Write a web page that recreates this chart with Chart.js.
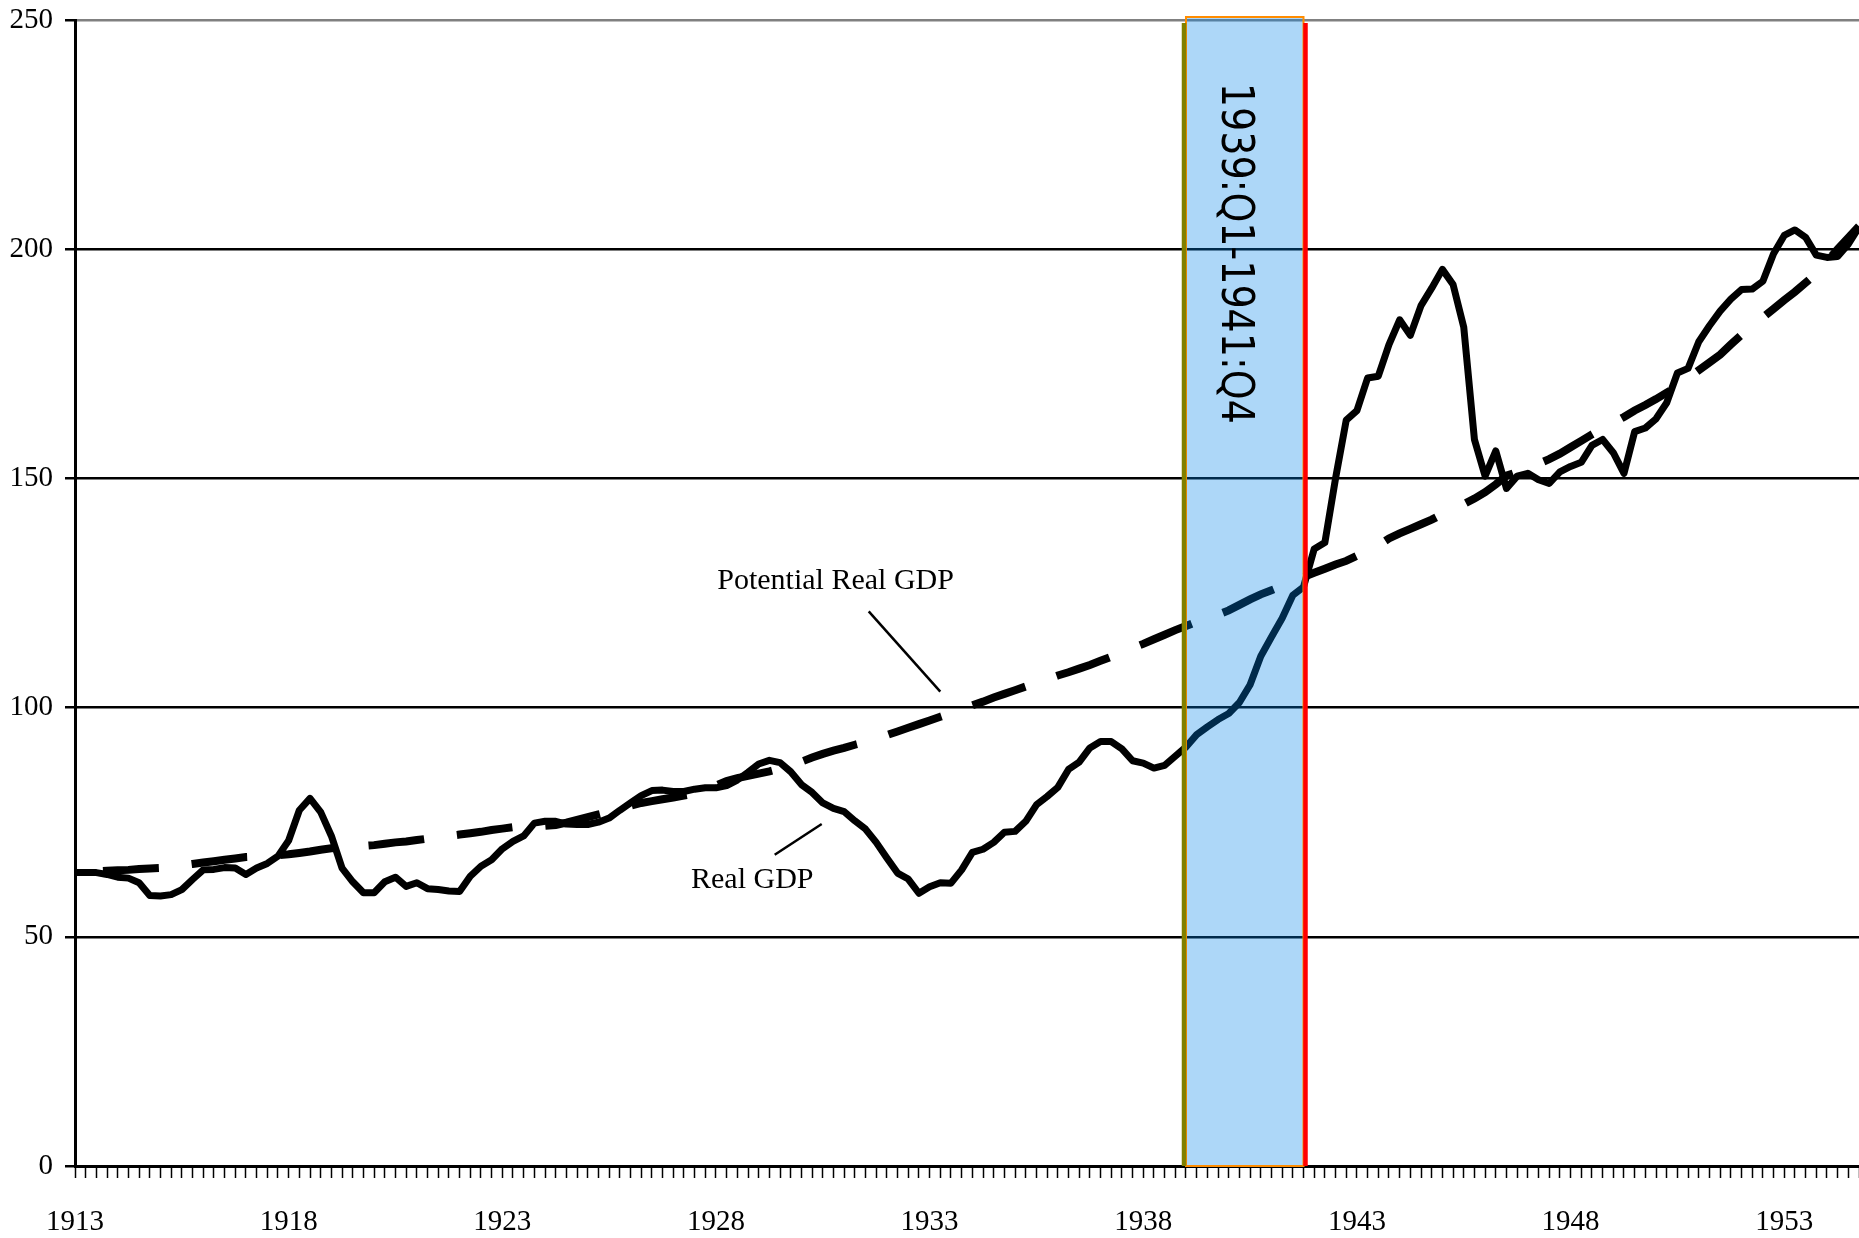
<!DOCTYPE html>
<html>
<head>
<meta charset="utf-8">
<title>Real GDP and Potential Real GDP</title>
<script src="https://cdn.jsdelivr.net/npm/chart.js@4.4.0/dist/chart.umd.min.js"></script>
<style>
  html, body { margin: 0; padding: 0; background: #fff; }
  #wrap { width: 1859px; height: 1238px; }
</style>
</head>
<body>
<div id="wrap"><canvas id="gdpChart" width="1859" height="1238"></canvas></div>
<script>
// Quarterly categories 1913Q1 .. 1954Q4
const firstYear = 1913;
const lastYear = 1954;
const quarters = [];
for (let yr = firstYear; yr <= lastYear; yr++) {
  for (let q = 1; q <= 4; q++) quarters.push(yr + 'Q' + q);
}

const yearTicks = ['1913', '1918', '1923', '1928', '1933', '1938', '1943', '1948', '1953'];
const yTicks = [0, 50, 100, 150, 200, 250];

const realGdp = [
  64.0, 64.0, 64.0, 63.6, 63.0, 62.8, 61.8, 59.0, 58.9, 59.2,
  60.3, 62.5, 64.6, 64.7, 65.1, 65.0, 63.6, 65.0, 66.0, 67.6,
  71.0, 77.6, 80.2, 77.2, 72.0, 65.0, 62.0, 59.6, 59.6, 62.0,
  63.0, 61.0, 61.8, 60.5, 60.3, 60.0, 59.9, 63.2, 65.4, 66.8,
  69.2, 70.8, 72.0, 74.8, 75.2, 75.2, 74.6, 74.5, 74.5, 75.0,
  75.9, 77.6, 79.2, 80.8, 81.9, 82.0, 81.7, 81.7, 82.2, 82.5,
  82.5, 83.0, 84.2, 85.9, 87.7, 88.5, 88.0, 86.0, 83.2, 81.5,
  79.2, 78.0, 77.3, 75.3, 73.5, 70.6, 67.2, 63.9, 62.6, 59.5,
  60.9, 61.8, 61.7, 64.6, 68.4, 69.1, 70.6, 72.8, 73.0, 75.2,
  78.8, 80.6, 82.6, 86.5, 88.1, 91.2, 92.6, 92.6, 91.0, 88.4,
  87.9, 86.8, 87.4, 89.4, 91.4, 94.1, 95.8, 97.4, 98.7, 101.1,
  105.0, 111.2, 115.4, 119.5, 124.5, 126.3, 134.6, 136.0, 150.0, 162.7,
  164.8, 171.9, 172.3, 179.2, 184.6, 181.2, 187.7, 191.5, 195.6, 192.3,
  183.0, 158.5, 150.5, 156.0, 147.8, 150.5, 151.1, 149.7, 148.9, 151.4,
  152.6, 153.5, 157.2, 158.5, 155.6, 151.1, 160.2, 161.0, 163.0, 166.5,
  173.0, 174.0, 179.8, 183.3, 186.5, 189.1, 191.2, 191.3, 193.0, 199.0,
  203.0, 204.2, 202.6, 198.7, 198.2, 198.4, 201.1, 204.8
];

const potentialGdp = [
  64.0, 64.1, 64.3, 64.4, 64.5, 64.6, 64.8, 64.9, 65.0, 65.3,
  65.6, 65.9, 66.2, 66.5, 66.8, 67.1, 67.4, 67.5, 67.7, 67.8,
  68.0, 68.3, 68.6, 69.0, 69.3, 69.5, 69.6, 69.8, 70.0, 70.3,
  70.6, 70.8, 71.1, 71.4, 71.7, 72.0, 72.3, 72.6, 72.9, 73.3,
  73.6, 73.9, 74.0, 74.1, 74.2, 74.4, 74.9, 75.5, 76.1, 76.7,
  77.3, 77.9, 78.6, 79.2, 79.6, 80.0, 80.4, 80.8, 81.2, 82.1,
  83.0, 84.0, 84.6, 85.1, 85.6, 86.1, 86.7, 87.4, 88.2, 89.1,
  89.9, 90.6, 91.2, 91.9, 92.5, 93.2, 94.0, 94.8, 95.6, 96.4,
  97.2, 98.0, 98.8, 99.6, 100.5, 101.3, 102.2, 103.0, 103.8, 104.6,
  105.4, 106.2, 107.0, 107.7, 108.5, 109.3, 110.2, 111.1, 112.0, 113.0,
  113.9, 114.9, 115.9, 116.9, 117.8, 118.7, 119.5, 120.3, 121.2, 122.4,
  123.6, 124.7, 125.6, 126.5, 127.5, 128.5, 129.4, 130.3, 131.2, 132.0,
  133.1, 134.3, 135.4, 136.9, 138.0, 139.0, 140.0, 141.0, 142.2, 143.3,
  144.4, 145.6, 147.0, 148.7, 150.6, 151.4, 152.3, 153.2, 154.2, 155.4,
  156.8, 158.2, 159.6, 160.9, 162.1, 163.4, 164.8, 166.0, 167.3, 168.7,
  170.1, 171.9, 173.6, 175.3, 177.0, 179.2, 181.3, 183.2, 185.1, 187.0,
  188.9, 190.7, 192.7, 194.7, 197.3, 200.0, 202.5, 205.0
];

// Shaded period
const bandStart = '1939Q1';
const bandEnd = '1941Q4';
const bandLabel = '1939:Q1-1941:Q4';

// Text notes and leader lines, placed in data units (category index, value)
const notes = [
  { text: 'Potential Real GDP', at: [71.2, 127.5] },
  { text: 'Real GDP', at: [63.4, 62.3] }
];
const leaders = [
  [74.3, 121.0, 81.0, 103.5],
  [65.5, 67.9, 69.9, 74.6]
];

const serif = '"Liberation Serif", "DejaVu Serif", serif';

const overlayPlugin = {
  id: 'overlay',
  afterDatasetsDraw(chart) {
    const { ctx, scales: { x, y } } = chart;
    const x0 = x.getPixelForValue(quarters.indexOf(bandStart));
    const x1 = x.getPixelForValue(quarters.indexOf(bandEnd));
    const top = y.getPixelForValue(yTicks[yTicks.length - 1]) - 3;
    const bottom = y.getPixelForValue(0);

    ctx.save();
    // translucent band over the lines
    ctx.fillStyle = 'rgba(0, 132, 233, 0.32)';
    ctx.fillRect(x0, top, x1 - x0, bottom - top);
    ctx.strokeStyle = '#ff8c00';
    ctx.lineWidth = 2;
    ctx.strokeRect(x0, top, x1 - x0, bottom - top);

    ctx.lineWidth = 4.5;
    ctx.strokeStyle = '#808000';
    ctx.beginPath();
    ctx.moveTo(x0 - 2, top + 6);
    ctx.lineTo(x0 - 2, bottom);
    ctx.stroke();
    ctx.strokeStyle = '#ff0000';
    ctx.beginPath();
    ctx.moveTo(x1 + 2, top + 6);
    ctx.lineTo(x1 + 2, bottom);
    ctx.stroke();

    // rotated period label, tops of the glyphs facing right
    ctx.save();
    ctx.translate(x0 + (x1 - x0) * 0.31, y.getPixelForValue(236.3));
    ctx.rotate(Math.PI / 2);
    ctx.scale(0.845, 1);
    ctx.fillStyle = '#000';
    ctx.font = '45px "DejaVu Sans", sans-serif';
    ctx.textAlign = 'left';
    ctx.textBaseline = 'alphabetic';
    ctx.fillText(bandLabel, 0, 0);
    ctx.restore();

    // notes
    ctx.fillStyle = '#000';
    ctx.font = '30px ' + serif;
    ctx.textAlign = 'center';
    ctx.textBaseline = 'middle';
    notes.forEach(n => {
      ctx.fillText(n.text, x.getPixelForValue(n.at[0]), y.getPixelForValue(n.at[1]));
    });

    ctx.strokeStyle = '#000';
    ctx.lineWidth = 2.5;
    leaders.forEach(l => {
      ctx.beginPath();
      ctx.moveTo(x.getPixelForValue(l[0]), y.getPixelForValue(l[1]));
      ctx.lineTo(x.getPixelForValue(l[2]), y.getPixelForValue(l[3]));
      ctx.stroke();
    });
    ctx.restore();
  }
};

new Chart(document.getElementById('gdpChart'), {
  type: 'line',
  data: {
    labels: quarters,
    datasets: [
      {
        label: 'Real GDP',
        data: realGdp,
        borderColor: '#000',
        borderWidth: 7,
        borderJoinStyle: 'round',
        pointRadius: 0,
        tension: 0,
        fill: false
      },
      {
        label: 'Potential Real GDP',
        data: potentialGdp,
        borderColor: '#000',
        borderWidth: 8,
        borderDash: [56, 33],
        borderDashOffset: 61,
        borderCapStyle: 'butt',
        pointRadius: 0,
        tension: 0,
        fill: false
      }
    ]
  },
  options: {
    responsive: false,
    animation: false,
    devicePixelRatio: 1,
    layout: { padding: { top: 20, right: 0, left: 0, bottom: 0 } },
    plugins: {
      legend: { display: false },
      tooltip: { enabled: false }
    },
    scales: {
      x: {
        type: 'category',
        offset: false,
        afterFit: scale => {
          scale.height = 72;
          scale.paddingLeft = 0;
          scale.paddingRight = 0;
        },
        grid: {
          drawOnChartArea: false,
          drawTicks: true,
          tickLength: 12,
          tickColor: '#000',
          tickWidth: 1.5
        },
        border: { display: true, color: '#000', width: 3 },
        ticks: {
          autoSkip: false,
          maxRotation: 0,
          minRotation: 0,
          padding: 27,
          color: '#000',
          font: { family: serif, size: 29 },
          callback: function (val, i) {
            const lab = quarters[i];
            const yr = lab.slice(0, 4);
            return lab.endsWith('Q1') && yearTicks.includes(yr) ? yr : '';
          }
        }
      },
      y: {
        min: yTicks[0],
        max: yTicks[yTicks.length - 1],
        afterFit: scale => {
          scale.width = 75;
          scale.paddingTop = 0;
          scale.paddingBottom = 0;
        },
        afterBuildTicks: scale => { scale.ticks = yTicks.map(v => ({ value: v })); },
        grid: {
          color: c => (c.tick && c.tick.value === 250 ? '#808080' : '#000'),
          lineWidth: 2.5,
          tickLength: 10,
          tickColor: '#000'
        },
        border: { display: true, color: '#000', width: 3 },
        ticks: {
          padding: 12,
          color: '#000',
          font: { family: serif, size: 29 }
        }
      }
    }
  },
  plugins: [overlayPlugin]
});
</script>
</body>
</html>
